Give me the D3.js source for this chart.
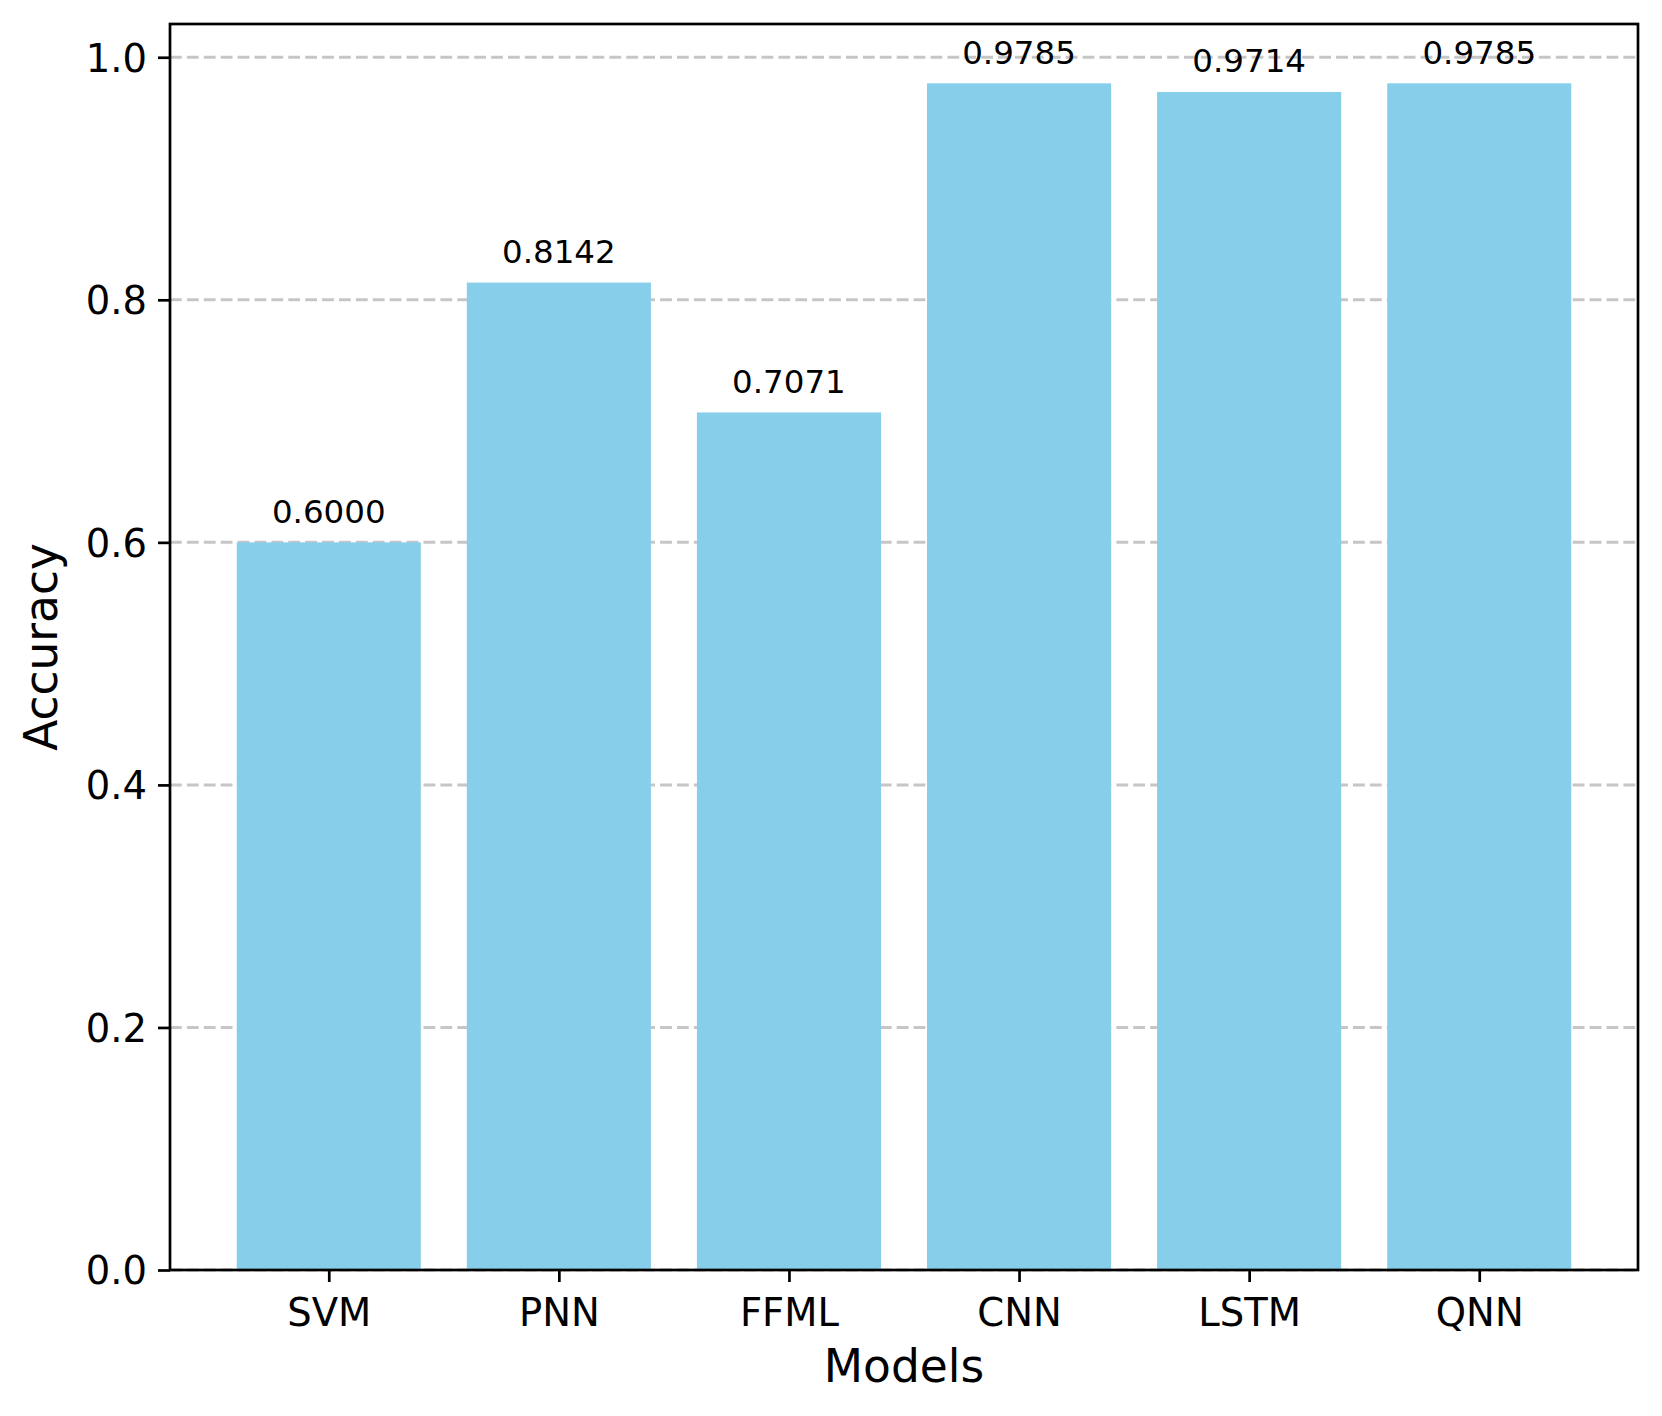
<!DOCTYPE html>
<html><head><meta charset="utf-8">
<script src="https://cdn.jsdelivr.net/npm/d3@7"></script>
<style>body{margin:0;background:#fff}svg{display:block}text{font-family:"DejaVu Sans",sans-serif;fill:#000}</style>
</head><body><svg id="c" width="1662" height="1416"></svg>
<script>
const models = ["SVM","PNN","FFML","CNN","LSTM","QNN"];
const accuracy = [0.6000,0.8142,0.7071,0.9785,0.9714,0.9785];
const yTicks = [0.0,0.2,0.4,0.6,0.8,1.0];

const svg = d3.select("#c");
const L=170, R=1638, T=24, B=1270;
const x = d3.scaleLinear().domain([-0.69, models.length-1+0.69]).range([L,R]);
const ymax = d3.max(accuracy)*1.05;
const y = d3.scaleLinear().domain([0, ymax]).range([B,T]);
const bw = x(0.4)-x(-0.4);

// grid
svg.append("g").selectAll("line").data(yTicks).join("line")
  .attr("x1",L).attr("x2",R).attr("y1",d=>y(d)).attr("y2",d=>y(d))
  .attr("stroke","#c6c6c6").attr("stroke-width",3).attr("stroke-dasharray","11.8,5.1");

// bars
svg.append("g").selectAll("rect").data(accuracy).join("rect")
  .attr("x",(d,i)=>x(i)-bw/2).attr("width",bw)
  .attr("y",d=>y(d)).attr("height",d=>B-y(d)).attr("fill","#87CEEB");

// value labels
svg.append("g").selectAll("text").data(accuracy).join("text")
  .attr("x",(d,i)=>x(i)).attr("y",d=>y(d+0.01)-7.7)
  .attr("text-anchor","middle").attr("font-size",32.5).text(d=>d.toFixed(4));

// axes
const yAxis = d3.axisLeft(y).tickValues(yTicks).tickFormat(d3.format(".1f")).tickSize(12).tickPadding(11);
const gy = svg.append("g").attr("transform",`translate(${L},0)`).call(yAxis);
gy.select(".domain").remove();
gy.selectAll("line").attr("stroke","#000").attr("stroke-width",2.7);
gy.selectAll("text").attr("font-size",38.5).attr("font-family","DejaVu Sans").attr("fill","#000").attr("dy","0.36em");

const xAxis = d3.axisBottom(x).tickValues(d3.range(models.length)).tickFormat(i=>models[i]).tickSize(12).tickPadding(11);
const gx = svg.append("g").attr("transform",`translate(0,${B})`).call(xAxis);
gx.select(".domain").remove();
gx.selectAll("line").attr("stroke","#000").attr("stroke-width",2.7);
gx.selectAll("text").attr("font-size",38.5).attr("font-family","DejaVu Sans").attr("fill","#000").attr("dy",null).attr("y",null)
  .attr("transform","translate(0,56)");

// frame
svg.append("rect").attr("x",L).attr("y",T).attr("width",R-L).attr("height",B-T)
  .attr("fill","none").attr("stroke","#000").attr("stroke-width",2.7);

// axis labels
svg.append("text").attr("x",(L+R)/2).attr("y",1381.5).attr("text-anchor","middle").attr("font-size",45.5).text("Models");
svg.append("text").attr("transform",`translate(57,${(T+B)/2}) rotate(-90)`).attr("text-anchor","middle").attr("font-size",45.5).text("Accuracy");
</script></body></html>
